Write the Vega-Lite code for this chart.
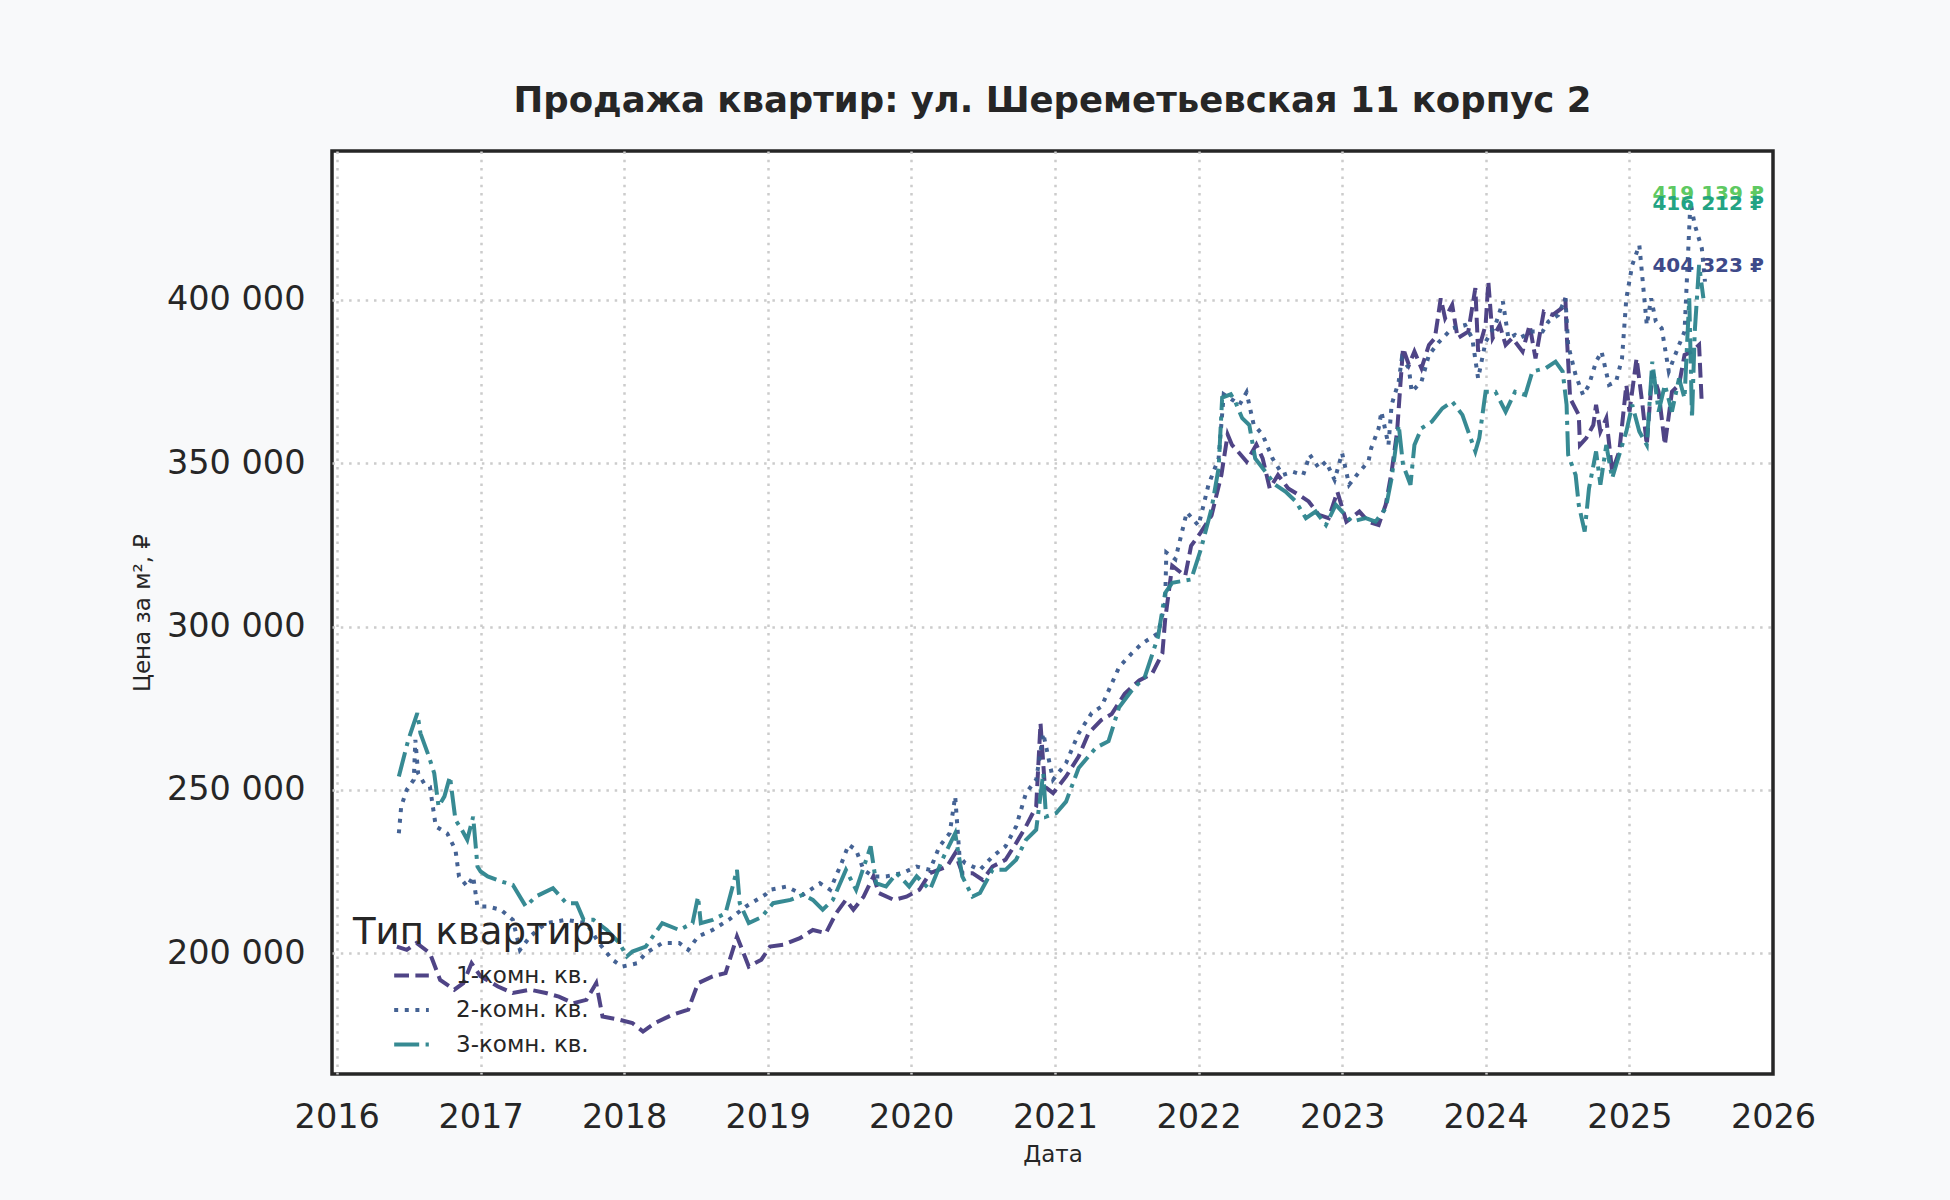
{
  "$schema": "https://vega.github.io/schema/vega-lite/v6.json",
  "description": "Продажа квартир: цена за м² по типам квартир, 2016-2025",
  "width": 1441,
  "height": 923,
  "autosize": "none",
  "padding": {"left": 332, "top": 151, "right": 177, "bottom": 126},
  "background": "#f8f9fa",
  "title": {
    "text": "Продажа квартир: ул. Шереметьевская 11 корпус 2",
    "font": "DejaVu Sans",
    "fontSize": 35.5,
    "fontWeight": "bold",
    "color": "#262626",
    "anchor": "middle",
    "offset": 32
  },
  "datasets": {
    "series": [
      {"date": "2016-06-02", "type": "1-комн. кв.", "price": 202000},
      {"date": "2016-06-27", "type": "1-комн. кв.", "price": 201000},
      {"date": "2016-07-22", "type": "1-комн. кв.", "price": 203100},
      {"date": "2016-08-25", "type": "1-комн. кв.", "price": 200000},
      {"date": "2016-09-20", "type": "1-комн. кв.", "price": 191800},
      {"date": "2016-10-26", "type": "1-комн. кв.", "price": 188800},
      {"date": "2016-11-18", "type": "1-комн. кв.", "price": 190800},
      {"date": "2016-12-09", "type": "1-комн. кв.", "price": 196900},
      {"date": "2017-01-01", "type": "1-комн. кв.", "price": 192900},
      {"date": "2017-02-14", "type": "1-комн. кв.", "price": 189800},
      {"date": "2017-03-24", "type": "1-комн. кв.", "price": 187800},
      {"date": "2017-05-07", "type": "1-комн. кв.", "price": 188800},
      {"date": "2017-06-16", "type": "1-комн. кв.", "price": 187800},
      {"date": "2017-07-19", "type": "1-комн. кв.", "price": 186700},
      {"date": "2017-08-25", "type": "1-комн. кв.", "price": 184700},
      {"date": "2017-09-27", "type": "1-комн. кв.", "price": 185700},
      {"date": "2017-10-22", "type": "1-комн. кв.", "price": 190800},
      {"date": "2017-11-07", "type": "1-комн. кв.", "price": 180600},
      {"date": "2017-12-20", "type": "1-комн. кв.", "price": 179600},
      {"date": "2018-01-22", "type": "1-комн. кв.", "price": 178600},
      {"date": "2018-02-18", "type": "1-комн. кв.", "price": 176000},
      {"date": "2018-03-20", "type": "1-комн. кв.", "price": 178600},
      {"date": "2018-05-03", "type": "1-комн. кв.", "price": 181100},
      {"date": "2018-06-13", "type": "1-комн. кв.", "price": 182700},
      {"date": "2018-07-08", "type": "1-комн. кв.", "price": 190800},
      {"date": "2018-08-14", "type": "1-комн. кв.", "price": 192900},
      {"date": "2018-09-16", "type": "1-комн. кв.", "price": 193900},
      {"date": "2018-10-15", "type": "1-комн. кв.", "price": 205100},
      {"date": "2018-11-14", "type": "1-комн. кв.", "price": 195900},
      {"date": "2018-12-16", "type": "1-комн. кв.", "price": 198000},
      {"date": "2019-01-07", "type": "1-комн. кв.", "price": 202000},
      {"date": "2019-02-10", "type": "1-комн. кв.", "price": 202600},
      {"date": "2019-03-24", "type": "1-комн. кв.", "price": 204600},
      {"date": "2019-04-26", "type": "1-комн. кв.", "price": 207100},
      {"date": "2019-05-29", "type": "1-комн. кв.", "price": 206100},
      {"date": "2019-06-24", "type": "1-комн. кв.", "price": 212200},
      {"date": "2019-07-19", "type": "1-комн. кв.", "price": 216300},
      {"date": "2019-08-07", "type": "1-комн. кв.", "price": 213300},
      {"date": "2019-09-02", "type": "1-комн. кв.", "price": 217300},
      {"date": "2019-09-27", "type": "1-комн. кв.", "price": 223500},
      {"date": "2019-10-11", "type": "1-комн. кв.", "price": 218400},
      {"date": "2019-11-18", "type": "1-комн. кв.", "price": 216300},
      {"date": "2019-12-20", "type": "1-комн. кв.", "price": 217300},
      {"date": "2020-01-22", "type": "1-комн. кв.", "price": 219400},
      {"date": "2020-02-18", "type": "1-комн. кв.", "price": 224500},
      {"date": "2020-04-01", "type": "1-комн. кв.", "price": 226500},
      {"date": "2020-04-22", "type": "1-комн. кв.", "price": 230600},
      {"date": "2020-05-10", "type": "1-комн. кв.", "price": 224500},
      {"date": "2020-06-05", "type": "1-комн. кв.", "price": 224500},
      {"date": "2020-07-01", "type": "1-комн. кв.", "price": 222400},
      {"date": "2020-07-26", "type": "1-комн. кв.", "price": 226500},
      {"date": "2020-08-28", "type": "1-комн. кв.", "price": 228600},
      {"date": "2020-09-24", "type": "1-комн. кв.", "price": 233700},
      {"date": "2020-10-19", "type": "1-комн. кв.", "price": 238800},
      {"date": "2020-11-14", "type": "1-комн. кв.", "price": 244900},
      {"date": "2020-11-25", "type": "1-комн. кв.", "price": 270400},
      {"date": "2020-12-06", "type": "1-комн. кв.", "price": 251000},
      {"date": "2020-12-27", "type": "1-комн. кв.", "price": 249000},
      {"date": "2021-01-29", "type": "1-комн. кв.", "price": 254100},
      {"date": "2021-03-02", "type": "1-комн. кв.", "price": 260200},
      {"date": "2021-03-27", "type": "1-комн. кв.", "price": 267300},
      {"date": "2021-04-29", "type": "1-комн. кв.", "price": 271400},
      {"date": "2021-05-25", "type": "1-комн. кв.", "price": 273200},
      {"date": "2021-06-27", "type": "1-комн. кв.", "price": 279400},
      {"date": "2021-08-03", "type": "1-комн. кв.", "price": 283500},
      {"date": "2021-09-05", "type": "1-комн. кв.", "price": 285600},
      {"date": "2021-10-01", "type": "1-комн. кв.", "price": 291800},
      {"date": "2021-10-08", "type": "1-комн. кв.", "price": 302100},
      {"date": "2021-10-26", "type": "1-комн. кв.", "price": 318600},
      {"date": "2021-11-28", "type": "1-комн. кв.", "price": 315500},
      {"date": "2021-12-13", "type": "1-комн. кв.", "price": 324700},
      {"date": "2022-01-07", "type": "1-комн. кв.", "price": 328900},
      {"date": "2022-02-03", "type": "1-комн. кв.", "price": 334000},
      {"date": "2022-02-28", "type": "1-комн. кв.", "price": 346400},
      {"date": "2022-03-16", "type": "1-комн. кв.", "price": 358800},
      {"date": "2022-03-27", "type": "1-комн. кв.", "price": 355600},
      {"date": "2022-04-11", "type": "1-комн. кв.", "price": 353600},
      {"date": "2022-05-03", "type": "1-комн. кв.", "price": 350500},
      {"date": "2022-05-28", "type": "1-комн. кв.", "price": 355700},
      {"date": "2022-06-13", "type": "1-комн. кв.", "price": 351500},
      {"date": "2022-07-01", "type": "1-комн. кв.", "price": 342300},
      {"date": "2022-07-22", "type": "1-комн. кв.", "price": 346400},
      {"date": "2022-08-17", "type": "1-комн. кв.", "price": 342300},
      {"date": "2022-09-13", "type": "1-комн. кв.", "price": 340300},
      {"date": "2022-10-08", "type": "1-комн. кв.", "price": 338300},
      {"date": "2022-11-03", "type": "1-комн. кв.", "price": 334200},
      {"date": "2022-11-28", "type": "1-комн. кв.", "price": 333200},
      {"date": "2022-12-20", "type": "1-комн. кв.", "price": 341300},
      {"date": "2023-01-12", "type": "1-комн. кв.", "price": 332100},
      {"date": "2023-02-14", "type": "1-комн. кв.", "price": 335200},
      {"date": "2023-03-09", "type": "1-комн. кв.", "price": 332100},
      {"date": "2023-04-04", "type": "1-комн. кв.", "price": 331100},
      {"date": "2023-04-22", "type": "1-комн. кв.", "price": 337300},
      {"date": "2023-05-07", "type": "1-комн. кв.", "price": 347400},
      {"date": "2023-05-21", "type": "1-комн. кв.", "price": 359700},
      {"date": "2023-05-28", "type": "1-комн. кв.", "price": 371900},
      {"date": "2023-06-05", "type": "1-комн. кв.", "price": 385200},
      {"date": "2023-06-20", "type": "1-комн. кв.", "price": 380100},
      {"date": "2023-07-04", "type": "1-комн. кв.", "price": 384200},
      {"date": "2023-07-22", "type": "1-комн. кв.", "price": 379100},
      {"date": "2023-08-10", "type": "1-комн. кв.", "price": 386200},
      {"date": "2023-08-25", "type": "1-комн. кв.", "price": 388300},
      {"date": "2023-09-09", "type": "1-комн. кв.", "price": 400500},
      {"date": "2023-09-20", "type": "1-комн. кв.", "price": 394400},
      {"date": "2023-10-08", "type": "1-комн. кв.", "price": 398500},
      {"date": "2023-10-22", "type": "1-комн. кв.", "price": 388300},
      {"date": "2023-11-18", "type": "1-комн. кв.", "price": 390300},
      {"date": "2023-12-06", "type": "1-комн. кв.", "price": 403600},
      {"date": "2023-12-13", "type": "1-комн. кв.", "price": 384200},
      {"date": "2024-01-01", "type": "1-комн. кв.", "price": 392300},
      {"date": "2024-01-08", "type": "1-комн. кв.", "price": 405600},
      {"date": "2024-01-19", "type": "1-комн. кв.", "price": 388300},
      {"date": "2024-02-06", "type": "1-комн. кв.", "price": 392300},
      {"date": "2024-02-21", "type": "1-комн. кв.", "price": 386200},
      {"date": "2024-03-09", "type": "1-комн. кв.", "price": 388300},
      {"date": "2024-04-04", "type": "1-комн. кв.", "price": 384200},
      {"date": "2024-04-22", "type": "1-комн. кв.", "price": 392300},
      {"date": "2024-05-07", "type": "1-комн. кв.", "price": 382100},
      {"date": "2024-05-28", "type": "1-комн. кв.", "price": 396400},
      {"date": "2024-06-20", "type": "1-комн. кв.", "price": 395400},
      {"date": "2024-07-12", "type": "1-комн. кв.", "price": 397400},
      {"date": "2024-07-22", "type": "1-комн. кв.", "price": 400500},
      {"date": "2024-07-25", "type": "1-комн. кв.", "price": 390300},
      {"date": "2024-08-03", "type": "1-комн. кв.", "price": 369900},
      {"date": "2024-08-25", "type": "1-комн. кв.", "price": 364800},
      {"date": "2024-08-28", "type": "1-комн. кв.", "price": 355600},
      {"date": "2024-09-13", "type": "1-комн. кв.", "price": 357700},
      {"date": "2024-10-01", "type": "1-комн. кв.", "price": 361700},
      {"date": "2024-10-08", "type": "1-комн. кв.", "price": 367900},
      {"date": "2024-10-19", "type": "1-комн. кв.", "price": 359700},
      {"date": "2024-11-03", "type": "1-комн. кв.", "price": 363800},
      {"date": "2024-11-18", "type": "1-комн. кв.", "price": 347400},
      {"date": "2024-12-06", "type": "1-комн. кв.", "price": 353600},
      {"date": "2024-12-24", "type": "1-комн. кв.", "price": 374000},
      {"date": "2025-01-01", "type": "1-комн. кв.", "price": 365800},
      {"date": "2025-01-19", "type": "1-комн. кв.", "price": 382100},
      {"date": "2025-02-03", "type": "1-комн. кв.", "price": 367900},
      {"date": "2025-02-14", "type": "1-комн. кв.", "price": 355600},
      {"date": "2025-02-28", "type": "1-комн. кв.", "price": 378100},
      {"date": "2025-03-16", "type": "1-комн. кв.", "price": 371900},
      {"date": "2025-04-01", "type": "1-комн. кв.", "price": 355600},
      {"date": "2025-04-19", "type": "1-комн. кв.", "price": 371900},
      {"date": "2025-05-07", "type": "1-комн. кв.", "price": 374000},
      {"date": "2025-05-21", "type": "1-комн. кв.", "price": 383200},
      {"date": "2025-06-09", "type": "1-комн. кв.", "price": 384200},
      {"date": "2025-06-27", "type": "1-комн. кв.", "price": 386200},
      {"date": "2025-07-04", "type": "1-комн. кв.", "price": 367900},

      {"date": "2016-06-07", "type": "2-комн. кв.", "price": 236700},
      {"date": "2016-06-13", "type": "2-комн. кв.", "price": 244900},
      {"date": "2016-06-27", "type": "2-комн. кв.", "price": 250000},
      {"date": "2016-07-15", "type": "2-комн. кв.", "price": 253100},
      {"date": "2016-07-19", "type": "2-комн. кв.", "price": 265300},
      {"date": "2016-07-26", "type": "2-комн. кв.", "price": 255100},
      {"date": "2016-08-10", "type": "2-комн. кв.", "price": 252000},
      {"date": "2016-08-25", "type": "2-комн. кв.", "price": 251000},
      {"date": "2016-09-09", "type": "2-комн. кв.", "price": 238800},
      {"date": "2016-10-08", "type": "2-комн. кв.", "price": 236700},
      {"date": "2016-10-29", "type": "2-комн. кв.", "price": 231600},
      {"date": "2016-11-07", "type": "2-комн. кв.", "price": 223500},
      {"date": "2016-11-28", "type": "2-комн. кв.", "price": 220400},
      {"date": "2016-12-13", "type": "2-комн. кв.", "price": 223500},
      {"date": "2016-12-24", "type": "2-комн. кв.", "price": 214300},
      {"date": "2017-01-19", "type": "2-комн. кв.", "price": 214300},
      {"date": "2017-02-21", "type": "2-комн. кв.", "price": 213300},
      {"date": "2017-03-24", "type": "2-комн. кв.", "price": 210200},
      {"date": "2017-04-11", "type": "2-комн. кв.", "price": 201000},
      {"date": "2017-05-07", "type": "2-комн. кв.", "price": 205100},
      {"date": "2017-06-16", "type": "2-комн. кв.", "price": 209200},
      {"date": "2017-08-07", "type": "2-комн. кв.", "price": 210200},
      {"date": "2017-09-27", "type": "2-комн. кв.", "price": 209200},
      {"date": "2017-10-29", "type": "2-комн. кв.", "price": 203100},
      {"date": "2017-12-02", "type": "2-комн. кв.", "price": 198000},
      {"date": "2017-12-27", "type": "2-комн. кв.", "price": 195900},
      {"date": "2018-02-03", "type": "2-комн. кв.", "price": 196900},
      {"date": "2018-02-25", "type": "2-комн. кв.", "price": 200000},
      {"date": "2018-04-08", "type": "2-комн. кв.", "price": 203100},
      {"date": "2018-05-21", "type": "2-комн. кв.", "price": 203100},
      {"date": "2018-06-13", "type": "2-комн. кв.", "price": 201000},
      {"date": "2018-07-08", "type": "2-комн. кв.", "price": 205100},
      {"date": "2018-08-14", "type": "2-комн. кв.", "price": 207100},
      {"date": "2018-09-24", "type": "2-комн. кв.", "price": 210200},
      {"date": "2018-11-07", "type": "2-комн. кв.", "price": 214300},
      {"date": "2018-12-27", "type": "2-комн. кв.", "price": 218000},
      {"date": "2019-01-07", "type": "2-комн. кв.", "price": 219400},
      {"date": "2019-02-18", "type": "2-комн. кв.", "price": 220400},
      {"date": "2019-04-01", "type": "2-комн. кв.", "price": 217900},
      {"date": "2019-05-14", "type": "2-комн. кв.", "price": 221400},
      {"date": "2019-06-09", "type": "2-комн. кв.", "price": 219400},
      {"date": "2019-07-08", "type": "2-комн. кв.", "price": 227600},
      {"date": "2019-07-26", "type": "2-комн. кв.", "price": 233200},
      {"date": "2019-08-14", "type": "2-комн. кв.", "price": 231600},
      {"date": "2019-09-02", "type": "2-комн. кв.", "price": 225500},
      {"date": "2019-09-27", "type": "2-комн. кв.", "price": 223500},
      {"date": "2019-10-29", "type": "2-комн. кв.", "price": 223500},
      {"date": "2019-12-09", "type": "2-комн. кв.", "price": 224500},
      {"date": "2020-01-15", "type": "2-комн. кв.", "price": 226500},
      {"date": "2020-02-18", "type": "2-комн. кв.", "price": 225500},
      {"date": "2020-03-13", "type": "2-комн. кв.", "price": 232700},
      {"date": "2020-04-08", "type": "2-комн. кв.", "price": 236700},
      {"date": "2020-04-22", "type": "2-комн. кв.", "price": 248000},
      {"date": "2020-05-03", "type": "2-комн. кв.", "price": 229600},
      {"date": "2020-05-17", "type": "2-комн. кв.", "price": 227600},
      {"date": "2020-06-24", "type": "2-комн. кв.", "price": 225500},
      {"date": "2020-07-26", "type": "2-комн. кв.", "price": 229600},
      {"date": "2020-08-28", "type": "2-комн. кв.", "price": 232700},
      {"date": "2020-09-24", "type": "2-комн. кв.", "price": 238800},
      {"date": "2020-10-19", "type": "2-комн. кв.", "price": 249000},
      {"date": "2020-11-14", "type": "2-комн. кв.", "price": 253100},
      {"date": "2020-12-02", "type": "2-комн. кв.", "price": 267300},
      {"date": "2020-12-27", "type": "2-комн. кв.", "price": 253100},
      {"date": "2021-01-29", "type": "2-комн. кв.", "price": 258200},
      {"date": "2021-03-02", "type": "2-комн. кв.", "price": 267300},
      {"date": "2021-04-04", "type": "2-комн. кв.", "price": 273500},
      {"date": "2021-04-29", "type": "2-комн. кв.", "price": 275500},
      {"date": "2021-06-13", "type": "2-комн. кв.", "price": 287600},
      {"date": "2021-07-15", "type": "2-комн. кв.", "price": 291800},
      {"date": "2021-08-10", "type": "2-комн. кв.", "price": 294800},
      {"date": "2021-09-20", "type": "2-комн. кв.", "price": 297900},
      {"date": "2021-10-08", "type": "2-комн. кв.", "price": 307200},
      {"date": "2021-10-11", "type": "2-комн. кв.", "price": 322700},
      {"date": "2021-11-03", "type": "2-комн. кв.", "price": 320600},
      {"date": "2021-12-02", "type": "2-комн. кв.", "price": 335000},
      {"date": "2022-01-01", "type": "2-комн. кв.", "price": 330900},
      {"date": "2022-01-26", "type": "2-комн. кв.", "price": 343300},
      {"date": "2022-02-21", "type": "2-комн. кв.", "price": 351500},
      {"date": "2022-03-06", "type": "2-комн. кв.", "price": 371100},
      {"date": "2022-04-01", "type": "2-комн. кв.", "price": 369100},
      {"date": "2022-04-15", "type": "2-комн. кв.", "price": 367900},
      {"date": "2022-05-03", "type": "2-комн. кв.", "price": 371700},
      {"date": "2022-05-21", "type": "2-комн. кв.", "price": 361900},
      {"date": "2022-06-13", "type": "2-комн. кв.", "price": 358700},
      {"date": "2022-07-08", "type": "2-комн. кв.", "price": 351500},
      {"date": "2022-08-03", "type": "2-комн. кв.", "price": 346400},
      {"date": "2022-08-28", "type": "2-комн. кв.", "price": 347400},
      {"date": "2022-09-24", "type": "2-комн. кв.", "price": 346400},
      {"date": "2022-10-11", "type": "2-комн. кв.", "price": 352600},
      {"date": "2022-11-03", "type": "2-комн. кв.", "price": 348500},
      {"date": "2022-11-21", "type": "2-комн. кв.", "price": 350500},
      {"date": "2022-12-13", "type": "2-комн. кв.", "price": 344900},
      {"date": "2023-01-01", "type": "2-комн. кв.", "price": 353100},
      {"date": "2023-01-19", "type": "2-комн. кв.", "price": 343400},
      {"date": "2023-02-14", "type": "2-комн. кв.", "price": 347400},
      {"date": "2023-03-09", "type": "2-комн. кв.", "price": 350500},
      {"date": "2023-03-16", "type": "2-комн. кв.", "price": 354600},
      {"date": "2023-04-04", "type": "2-комн. кв.", "price": 360700},
      {"date": "2023-04-11", "type": "2-комн. кв.", "price": 365800},
      {"date": "2023-04-29", "type": "2-комн. кв.", "price": 355600},
      {"date": "2023-05-07", "type": "2-комн. кв.", "price": 367900},
      {"date": "2023-05-25", "type": "2-комн. кв.", "price": 375000},
      {"date": "2023-06-02", "type": "2-комн. кв.", "price": 382100},
      {"date": "2023-06-20", "type": "2-комн. кв.", "price": 379100},
      {"date": "2023-06-27", "type": "2-комн. кв.", "price": 371900},
      {"date": "2023-07-22", "type": "2-комн. кв.", "price": 375000},
      {"date": "2023-08-10", "type": "2-комн. кв.", "price": 383200},
      {"date": "2023-09-05", "type": "2-комн. кв.", "price": 387200},
      {"date": "2023-10-08", "type": "2-комн. кв.", "price": 391300},
      {"date": "2023-11-10", "type": "2-комн. кв.", "price": 392300},
      {"date": "2023-11-28", "type": "2-комн. кв.", "price": 388300},
      {"date": "2023-12-13", "type": "2-комн. кв.", "price": 376000},
      {"date": "2024-01-01", "type": "2-комн. кв.", "price": 387200},
      {"date": "2024-01-26", "type": "2-комн. кв.", "price": 392300},
      {"date": "2024-02-14", "type": "2-комн. кв.", "price": 399500},
      {"date": "2024-02-28", "type": "2-комн. кв.", "price": 388300},
      {"date": "2024-03-16", "type": "2-комн. кв.", "price": 389300},
      {"date": "2024-03-27", "type": "2-комн. кв.", "price": 388300},
      {"date": "2024-04-29", "type": "2-комн. кв.", "price": 390300},
      {"date": "2024-05-25", "type": "2-комн. кв.", "price": 390300},
      {"date": "2024-06-09", "type": "2-комн. кв.", "price": 393400},
      {"date": "2024-07-04", "type": "2-комн. кв.", "price": 395400},
      {"date": "2024-07-22", "type": "2-комн. кв.", "price": 400500},
      {"date": "2024-07-29", "type": "2-комн. кв.", "price": 386200},
      {"date": "2024-08-17", "type": "2-комн. кв.", "price": 377000},
      {"date": "2024-09-05", "type": "2-комн. кв.", "price": 370900},
      {"date": "2024-09-20", "type": "2-комн. кв.", "price": 374000},
      {"date": "2024-10-08", "type": "2-комн. кв.", "price": 381100},
      {"date": "2024-10-22", "type": "2-комн. кв.", "price": 384200},
      {"date": "2024-11-10", "type": "2-комн. кв.", "price": 374000},
      {"date": "2024-11-28", "type": "2-комн. кв.", "price": 375000},
      {"date": "2024-12-13", "type": "2-комн. кв.", "price": 382100},
      {"date": "2024-12-24", "type": "2-комн. кв.", "price": 400500},
      {"date": "2025-01-08", "type": "2-комн. кв.", "price": 410700},
      {"date": "2025-01-26", "type": "2-комн. кв.", "price": 416800},
      {"date": "2025-02-03", "type": "2-комн. кв.", "price": 406600},
      {"date": "2025-02-14", "type": "2-комн. кв.", "price": 392300},
      {"date": "2025-02-25", "type": "2-комн. кв.", "price": 400500},
      {"date": "2025-03-09", "type": "2-комн. кв.", "price": 393400},
      {"date": "2025-03-24", "type": "2-комн. кв.", "price": 391300},
      {"date": "2025-04-11", "type": "2-комн. кв.", "price": 378100},
      {"date": "2025-05-07", "type": "2-комн. кв.", "price": 386200},
      {"date": "2025-05-21", "type": "2-комн. кв.", "price": 390300},
      {"date": "2025-06-05", "type": "2-комн. кв.", "price": 430000},
      {"date": "2025-06-16", "type": "2-комн. кв.", "price": 423000},
      {"date": "2025-07-04", "type": "2-комн. кв.", "price": 415800},
      {"date": "2025-07-12", "type": "2-комн. кв.", "price": 405600},

      {"date": "2016-06-07", "type": "3-комн. кв.", "price": 254100},
      {"date": "2016-07-01", "type": "3-комн. кв.", "price": 265300},
      {"date": "2016-07-24", "type": "3-комн. кв.", "price": 273500},
      {"date": "2016-08-01", "type": "3-комн. кв.", "price": 267300},
      {"date": "2016-08-21", "type": "3-комн. кв.", "price": 260700},
      {"date": "2016-09-05", "type": "3-комн. кв.", "price": 255100},
      {"date": "2016-09-16", "type": "3-комн. кв.", "price": 244900},
      {"date": "2016-10-01", "type": "3-комн. кв.", "price": 248000},
      {"date": "2016-10-15", "type": "3-комн. кв.", "price": 254100},
      {"date": "2016-10-29", "type": "3-комн. кв.", "price": 240800},
      {"date": "2016-11-14", "type": "3-комн. кв.", "price": 237800},
      {"date": "2016-11-28", "type": "3-комн. кв.", "price": 234700},
      {"date": "2016-12-13", "type": "3-комн. кв.", "price": 241800},
      {"date": "2016-12-24", "type": "3-комн. кв.", "price": 226500},
      {"date": "2017-01-01", "type": "3-комн. кв.", "price": 225000},
      {"date": "2017-01-19", "type": "3-комн. кв.", "price": 223500},
      {"date": "2017-02-21", "type": "3-комн. кв.", "price": 222000},
      {"date": "2017-03-24", "type": "3-комн. кв.", "price": 220900},
      {"date": "2017-04-26", "type": "3-комн. кв.", "price": 214300},
      {"date": "2017-05-21", "type": "3-комн. кв.", "price": 217300},
      {"date": "2017-07-04", "type": "3-комн. кв.", "price": 219900},
      {"date": "2017-08-07", "type": "3-комн. кв.", "price": 215300},
      {"date": "2017-09-02", "type": "3-комн. кв.", "price": 215300},
      {"date": "2017-09-20", "type": "3-комн. кв.", "price": 210200},
      {"date": "2017-10-15", "type": "3-комн. кв.", "price": 210200},
      {"date": "2017-11-18", "type": "3-комн. кв.", "price": 207100},
      {"date": "2017-12-20", "type": "3-комн. кв.", "price": 203100},
      {"date": "2018-01-08", "type": "3-комн. кв.", "price": 199000},
      {"date": "2018-01-22", "type": "3-комн. кв.", "price": 200500},
      {"date": "2018-02-25", "type": "3-комн. кв.", "price": 202000},
      {"date": "2018-04-08", "type": "3-комн. кв.", "price": 209200},
      {"date": "2018-05-21", "type": "3-комн. кв.", "price": 207100},
      {"date": "2018-06-24", "type": "3-комн. кв.", "price": 209200},
      {"date": "2018-07-08", "type": "3-комн. кв.", "price": 217300},
      {"date": "2018-07-15", "type": "3-комн. кв.", "price": 209200},
      {"date": "2018-08-14", "type": "3-комн. кв.", "price": 210200},
      {"date": "2018-09-16", "type": "3-комн. кв.", "price": 212200},
      {"date": "2018-10-15", "type": "3-комн. кв.", "price": 225500},
      {"date": "2018-10-22", "type": "3-комн. кв.", "price": 215300},
      {"date": "2018-11-14", "type": "3-комн. кв.", "price": 209200},
      {"date": "2018-12-16", "type": "3-комн. кв.", "price": 211000},
      {"date": "2019-01-15", "type": "3-комн. кв.", "price": 215300},
      {"date": "2019-02-28", "type": "3-комн. кв.", "price": 216300},
      {"date": "2019-04-01", "type": "3-комн. кв.", "price": 217900},
      {"date": "2019-04-26", "type": "3-комн. кв.", "price": 216300},
      {"date": "2019-05-21", "type": "3-комн. кв.", "price": 213300},
      {"date": "2019-06-16", "type": "3-комн. кв.", "price": 216300},
      {"date": "2019-07-19", "type": "3-комн. кв.", "price": 225500},
      {"date": "2019-08-14", "type": "3-комн. кв.", "price": 219400},
      {"date": "2019-09-20", "type": "3-комн. кв.", "price": 232700},
      {"date": "2019-10-04", "type": "3-комн. кв.", "price": 221400},
      {"date": "2019-10-29", "type": "3-комн. кв.", "price": 220400},
      {"date": "2019-11-25", "type": "3-комн. кв.", "price": 224500},
      {"date": "2019-12-27", "type": "3-комн. кв.", "price": 220400},
      {"date": "2020-01-15", "type": "3-комн. кв.", "price": 223500},
      {"date": "2020-02-18", "type": "3-комн. кв.", "price": 219400},
      {"date": "2020-03-20", "type": "3-комн. кв.", "price": 228600},
      {"date": "2020-04-22", "type": "3-комн. кв.", "price": 236700},
      {"date": "2020-05-10", "type": "3-комн. кв.", "price": 223500},
      {"date": "2020-06-05", "type": "3-комн. кв.", "price": 217300},
      {"date": "2020-06-24", "type": "3-комн. кв.", "price": 218400},
      {"date": "2020-07-26", "type": "3-комн. кв.", "price": 225500},
      {"date": "2020-08-28", "type": "3-комн. кв.", "price": 225500},
      {"date": "2020-09-24", "type": "3-комн. кв.", "price": 228600},
      {"date": "2020-10-19", "type": "3-комн. кв.", "price": 234700},
      {"date": "2020-11-14", "type": "3-комн. кв.", "price": 237800},
      {"date": "2020-12-02", "type": "3-комн. кв.", "price": 255100},
      {"date": "2020-12-09", "type": "3-комн. кв.", "price": 241800},
      {"date": "2021-01-04", "type": "3-комн. кв.", "price": 242900},
      {"date": "2021-01-29", "type": "3-комн. кв.", "price": 246400},
      {"date": "2021-02-06", "type": "3-комн. кв.", "price": 249000},
      {"date": "2021-03-02", "type": "3-комн. кв.", "price": 256700},
      {"date": "2021-04-15", "type": "3-комн. кв.", "price": 262900},
      {"date": "2021-05-17", "type": "3-комн. кв.", "price": 264900},
      {"date": "2021-06-13", "type": "3-комн. кв.", "price": 275300},
      {"date": "2021-07-15", "type": "3-комн. кв.", "price": 280400},
      {"date": "2021-08-17", "type": "3-комн. кв.", "price": 284500},
      {"date": "2021-09-20", "type": "3-комн. кв.", "price": 296900},
      {"date": "2021-10-08", "type": "3-комн. кв.", "price": 310300},
      {"date": "2021-10-26", "type": "3-комн. кв.", "price": 313400},
      {"date": "2021-12-13", "type": "3-комн. кв.", "price": 314400},
      {"date": "2022-01-07", "type": "3-комн. кв.", "price": 323700},
      {"date": "2022-02-03", "type": "3-комн. кв.", "price": 336100},
      {"date": "2022-02-21", "type": "3-комн. кв.", "price": 348500},
      {"date": "2022-03-02", "type": "3-комн. кв.", "price": 370100},
      {"date": "2022-03-24", "type": "3-комн. кв.", "price": 371100},
      {"date": "2022-04-04", "type": "3-комн. кв.", "price": 368900},
      {"date": "2022-04-22", "type": "3-комн. кв.", "price": 363800},
      {"date": "2022-05-10", "type": "3-комн. кв.", "price": 361700},
      {"date": "2022-05-25", "type": "3-комн. кв.", "price": 351500},
      {"date": "2022-06-20", "type": "3-комн. кв.", "price": 347400},
      {"date": "2022-07-15", "type": "3-комн. кв.", "price": 343400},
      {"date": "2022-08-10", "type": "3-комн. кв.", "price": 341300},
      {"date": "2022-09-05", "type": "3-комн. кв.", "price": 338300},
      {"date": "2022-10-01", "type": "3-комн. кв.", "price": 333200},
      {"date": "2022-10-26", "type": "3-комн. кв.", "price": 335200},
      {"date": "2022-11-21", "type": "3-комн. кв.", "price": 331100},
      {"date": "2022-12-16", "type": "3-комн. кв.", "price": 337300},
      {"date": "2023-01-01", "type": "3-комн. кв.", "price": 335200},
      {"date": "2023-01-26", "type": "3-комн. кв.", "price": 332100},
      {"date": "2023-03-02", "type": "3-комн. кв.", "price": 333200},
      {"date": "2023-03-27", "type": "3-комн. кв.", "price": 332100},
      {"date": "2023-04-22", "type": "3-комн. кв.", "price": 336200},
      {"date": "2023-05-07", "type": "3-комн. кв.", "price": 345400},
      {"date": "2023-05-25", "type": "3-комн. кв.", "price": 361700},
      {"date": "2023-06-05", "type": "3-комн. кв.", "price": 349500},
      {"date": "2023-06-24", "type": "3-комн. кв.", "price": 343400},
      {"date": "2023-07-04", "type": "3-комн. кв.", "price": 355600},
      {"date": "2023-07-22", "type": "3-комн. кв.", "price": 360700},
      {"date": "2023-08-17", "type": "3-комн. кв.", "price": 362700},
      {"date": "2023-09-13", "type": "3-комн. кв.", "price": 366800},
      {"date": "2023-10-08", "type": "3-комн. кв.", "price": 368900},
      {"date": "2023-11-03", "type": "3-комн. кв.", "price": 364800},
      {"date": "2023-11-18", "type": "3-комн. кв.", "price": 359700},
      {"date": "2023-12-06", "type": "3-комн. кв.", "price": 353600},
      {"date": "2023-12-16", "type": "3-комн. кв.", "price": 357700},
      {"date": "2024-01-01", "type": "3-комн. кв.", "price": 371900},
      {"date": "2024-01-26", "type": "3-комн. кв.", "price": 371900},
      {"date": "2024-02-21", "type": "3-комн. кв.", "price": 365800},
      {"date": "2024-03-16", "type": "3-комн. кв.", "price": 371900},
      {"date": "2024-04-11", "type": "3-комн. кв.", "price": 370900},
      {"date": "2024-04-29", "type": "3-комн. кв.", "price": 378100},
      {"date": "2024-06-02", "type": "3-комн. кв.", "price": 379100},
      {"date": "2024-06-27", "type": "3-комн. кв.", "price": 381100},
      {"date": "2024-07-15", "type": "3-комн. кв.", "price": 378100},
      {"date": "2024-07-25", "type": "3-комн. кв.", "price": 367900},
      {"date": "2024-07-29", "type": "3-комн. кв.", "price": 352600},
      {"date": "2024-08-17", "type": "3-комн. кв.", "price": 346400},
      {"date": "2024-08-25", "type": "3-комн. кв.", "price": 337200},
      {"date": "2024-09-09", "type": "3-комн. кв.", "price": 329100},
      {"date": "2024-09-20", "type": "3-комн. кв.", "price": 342300},
      {"date": "2024-10-08", "type": "3-комн. кв.", "price": 353600},
      {"date": "2024-10-19", "type": "3-комн. кв.", "price": 343400},
      {"date": "2024-11-03", "type": "3-комн. кв.", "price": 355600},
      {"date": "2024-11-18", "type": "3-комн. кв.", "price": 345400},
      {"date": "2024-12-06", "type": "3-комн. кв.", "price": 352600},
      {"date": "2024-12-24", "type": "3-комн. кв.", "price": 359700},
      {"date": "2025-01-08", "type": "3-комн. кв.", "price": 367900},
      {"date": "2025-01-26", "type": "3-комн. кв.", "price": 359700},
      {"date": "2025-02-14", "type": "3-комн. кв.", "price": 355600},
      {"date": "2025-02-28", "type": "3-комн. кв.", "price": 381100},
      {"date": "2025-03-16", "type": "3-комн. кв.", "price": 365800},
      {"date": "2025-04-01", "type": "3-комн. кв.", "price": 374000},
      {"date": "2025-04-19", "type": "3-комн. кв.", "price": 365800},
      {"date": "2025-05-07", "type": "3-комн. кв.", "price": 376000},
      {"date": "2025-05-21", "type": "3-комн. кв.", "price": 369900},
      {"date": "2025-06-02", "type": "3-комн. кв.", "price": 400500},
      {"date": "2025-06-09", "type": "3-комн. кв.", "price": 363800},
      {"date": "2025-06-16", "type": "3-комн. кв.", "price": 390300},
      {"date": "2025-06-27", "type": "3-комн. кв.", "price": 410700},
      {"date": "2025-07-08", "type": "3-комн. кв.", "price": 400500}
    ]
  },
  "layer": [
    {
      "data": {"name": "series"},
      "mark": {"type": "line", "strokeWidth": 4, "opacity": 0.95, "strokeCap": "butt"},
      "encoding": {
        "x": {
          "field": "date",
          "type": "temporal",
          "title": "Дата",
          "scale": {"domain": ["2015-12-20", "2026-01-01"], "nice": false},
          "axis": {
            "values": [
              {"year": 2016}, {"year": 2017}, {"year": 2018}, {"year": 2019}, {"year": 2020},
              {"year": 2021}, {"year": 2022}, {"year": 2023}, {"year": 2024}, {"year": 2025}, {"year": 2026}
            ],
            "format": "%Y",
            "labelPadding": 27,
            "titlePadding": 10,
            "gridOpacity": {"condition": {"test": "year(datum.value) >= 2026", "value": 0}, "value": 1}
          }
        },
        "y": {
          "field": "price",
          "type": "quantitative",
          "title": "Цена за м², ₽",
          "scale": {"domain": [163000, 445600], "nice": false, "zero": false},
          "axis": {
            "values": [200000, 250000, 300000, 350000, 400000],
            "format": ",.0f",
            "labelPadding": 27,
            "titlePadding": 12
          }
        },
        "color": {
          "field": "type",
          "type": "nominal",
          "title": "Тип квартиры",
          "scale": {
            "domain": ["1-комн. кв.", "2-комн. кв.", "3-комн. кв."],
            "range": ["#463a80", "#3a5a8e", "#2c848d"]
          },
          "legend": {"orient": "none", "legendX": 21, "legendY": 764}
        },
        "strokeDash": {
          "field": "type",
          "type": "nominal",
          "title": "Тип квартиры",
          "scale": {
            "domain": ["1-комн. кв.", "2-комн. кв.", "3-комн. кв."],
            "range": [[14.8, 6.4], [4, 6.6], [25, 6.4, 4, 6.4]]
          },
          "legend": {"orient": "none", "legendX": 21, "legendY": 764}
        }
      }
    },
    {
      "data": {"values": [{"date": "2025-07-20", "price": 419139, "label": "419 139 ₽"}]},
      "mark": {"type": "text", "font": "DejaVu Sans", "fontSize": 20, "fontWeight": "bold", "align": "center", "baseline": "middle", "dy": -43, "color": "#5ec962"},
      "encoding": {
        "x": {"field": "date", "type": "temporal"},
        "y": {"field": "price", "type": "quantitative"},
        "text": {"field": "label"}
      }
    },
    {
      "data": {"values": [{"date": "2025-07-20", "price": 416212, "label": "416 212 ₽"}]},
      "mark": {"type": "text", "font": "DejaVu Sans", "fontSize": 20, "fontWeight": "bold", "align": "center", "baseline": "middle", "dy": -43, "color": "#22a384"},
      "encoding": {
        "x": {"field": "date", "type": "temporal"},
        "y": {"field": "price", "type": "quantitative"},
        "text": {"field": "label"}
      }
    },
    {
      "data": {"values": [{"date": "2025-07-20", "price": 404323, "label": "404 323 ₽"}]},
      "mark": {"type": "text", "font": "DejaVu Sans", "fontSize": 20, "fontWeight": "bold", "align": "center", "baseline": "middle", "dy": -20, "color": "#3e4a89"},
      "encoding": {
        "x": {"field": "date", "type": "temporal"},
        "y": {"field": "price", "type": "quantitative"},
        "text": {"field": "label"}
      }
    }
  ],
  "config": {
    "locale": {
      "number": {"decimal": ",", "thousands": " ", "grouping": [3], "currency": ["", " ₽"]}
    },
    "font": "DejaVu Sans",
    "view": {"fill": "#ffffff", "stroke": "#262626", "strokeWidth": 3.5},
    "axis": {
      "domain": false,
      "ticks": false,
      "grid": true,
      "gridColor": "#cccccc",
      "gridWidth": 2.5,
      "gridDash": [2.5, 5.8],
      "labelFont": "DejaVu Sans",
      "labelFontSize": 33.5,
      "labelColor": "#262626",
      "titleFont": "DejaVu Sans",
      "titleFontSize": 23,
      "titleFontWeight": "normal",
      "titleColor": "#262626"
    },
    "axisX": {"labelFlush": false},
    "legend": {
      "titleFont": "DejaVu Sans",
      "titleFontSize": 37,
      "titleFontWeight": "normal",
      "titleColor": "#262626",
      "titleLimit": 600,
      "titlePadding": 4,
      "titleBaseline": "top",
      "labelFont": "DejaVu Sans",
      "labelFontSize": 23,
      "labelColor": "#262626",
      "labelLimit": 400,
      "symbolType": "stroke",
      "symbolSize": 1200,
      "symbolStrokeWidth": 4,
      "symbolOffset": 39,
      "labelOffset": 25,
      "rowPadding": 2.5,
      "padding": 0
    }
  }
}
